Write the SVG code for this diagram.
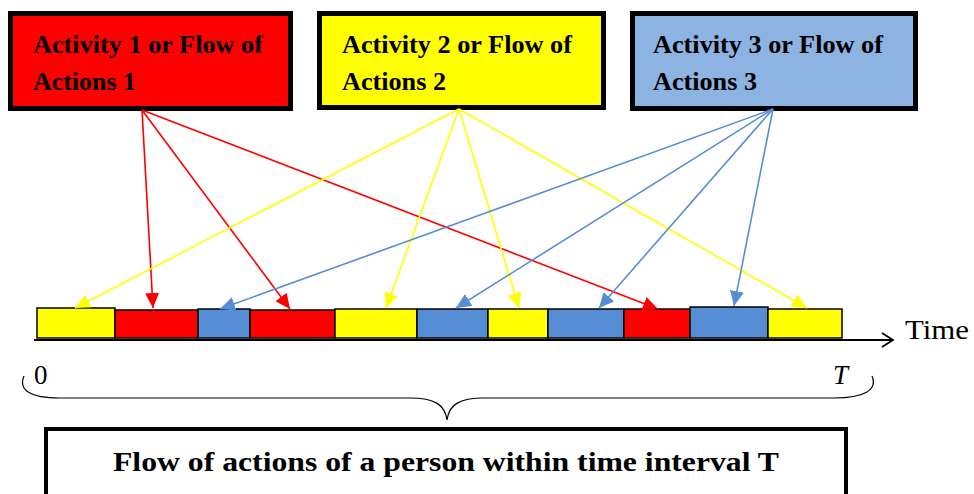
<svg xmlns="http://www.w3.org/2000/svg" width="974" height="494" viewBox="0 0 974 494">
<style>
.box{stroke:#000;stroke-width:5}
.lbl{font-family:"Liberation Serif","Times New Roman",serif;font-weight:bold;font-size:25px;fill:#000}
.big{font-size:27px}
.seg{stroke:#000;stroke-width:1.5}
.r{fill:#FF0000}.y{fill:#FFFF00}.b{fill:#558ED5}
.cr{stroke:#FF0000;stroke-width:1.6;fill:none}
.cy{stroke:#FFFF00;stroke-width:1.6;fill:none}
.cb{stroke:#558ED5;stroke-width:1.6;fill:none}
.ax{font-family:"Liberation Serif","Times New Roman",serif;font-size:28px;fill:#000}
.sm{font-size:27px}
</style>
<defs>
<marker id="mr" markerUnits="userSpaceOnUse" markerWidth="16" markerHeight="14" refX="15" refY="7" orient="auto"><path d="M0,0 L15,7 L0,14 z" fill="#FF0000"/></marker>
<marker id="my" markerUnits="userSpaceOnUse" markerWidth="16" markerHeight="14" refX="15" refY="7" orient="auto"><path d="M0,0 L15,7 L0,14 z" fill="#FFFF00"/></marker>
<marker id="mb" markerUnits="userSpaceOnUse" markerWidth="16" markerHeight="14" refX="15" refY="7" orient="auto"><path d="M0,0 L15,7 L0,14 z" fill="#558ED5"/></marker>
<marker id="mx" markerUnits="userSpaceOnUse" markerWidth="14" markerHeight="16" refX="12" refY="8" orient="auto"><path d="M1,1 L12,8 L1,15" fill="none" stroke="#000" stroke-width="1.8"/></marker>
</defs>

<g id="activity1">
<rect class="box" x="10.5" y="13.5" width="280" height="95" fill="#FF0000"/>
<text class="lbl" x="33" y="53" textLength="230" lengthAdjust="spacingAndGlyphs">Activity 1 or Flow of</text>
<text class="lbl" x="33" y="90" textLength="103" lengthAdjust="spacingAndGlyphs">Actions 1</text>
</g>
<g id="activity2">
<rect class="box" x="319.5" y="13.5" width="284" height="94" fill="#FFFF00"/>
<text class="lbl" x="342" y="53" textLength="230" lengthAdjust="spacingAndGlyphs">Activity 2 or Flow of</text>
<text class="lbl" x="342" y="90" textLength="104" lengthAdjust="spacingAndGlyphs">Actions 2</text>
</g>
<g id="activity3">
<rect class="box" x="632.5" y="13.5" width="283" height="95" fill="#8DB3E2"/>
<text class="lbl" x="653" y="53" textLength="230" lengthAdjust="spacingAndGlyphs">Activity 3 or Flow of</text>
<text class="lbl" x="653" y="90" textLength="104" lengthAdjust="spacingAndGlyphs">Actions 3</text>
</g>

<g id="timeline">
<rect class="seg y" x="37" y="308" width="78" height="30"/>
<rect class="seg r" x="115" y="310" width="83" height="28"/>
<rect class="seg b" x="198" y="309" width="52" height="29"/>
<rect class="seg r" x="250" y="310" width="85" height="28"/>
<rect class="seg y" x="335" y="309" width="82" height="29"/>
<rect class="seg b" x="417" y="309" width="71" height="29"/>
<rect class="seg y" x="488" y="309" width="60" height="29"/>
<rect class="seg b" x="548" y="309" width="76" height="29"/>
<rect class="seg r" x="624" y="309" width="66" height="29"/>
<rect class="seg b" x="690" y="307" width="78" height="31"/>
<rect class="seg y" x="768" y="309" width="74" height="29"/>
<line x1="34" y1="340" x2="893" y2="340" stroke="#000" stroke-width="1.8" marker-end="url(#mx)"/>
<text class="ax" x="905" y="339" textLength="64" lengthAdjust="spacingAndGlyphs">Time</text>
<text class="ax sm" x="34" y="384">0</text>
<text class="ax sm" x="833" y="384" font-style="italic">T</text>
</g>

<g id="connectors">
<line class="cr" x1="142" y1="110" x2="153" y2="308" marker-end="url(#mr)"/>
<line class="cr" x1="142" y1="110" x2="290" y2="309" marker-end="url(#mr)"/>
<line class="cr" x1="142" y1="110" x2="658" y2="309" marker-end="url(#mr)"/>
<line class="cy" x1="459" y1="109" x2="75" y2="308" marker-end="url(#my)"/>
<line class="cy" x1="459" y1="109" x2="386" y2="308" marker-end="url(#my)"/>
<line class="cy" x1="459" y1="109" x2="519" y2="308" marker-end="url(#my)"/>
<line class="cy" x1="459" y1="109" x2="807" y2="308" marker-end="url(#my)"/>
<line class="cb" x1="773" y1="109" x2="220" y2="309" marker-end="url(#mb)"/>
<line class="cb" x1="773" y1="109" x2="456" y2="308" marker-end="url(#mb)"/>
<line class="cb" x1="773" y1="109" x2="599" y2="308" marker-end="url(#mb)"/>
<line class="cb" x1="773" y1="109" x2="734" y2="306" marker-end="url(#mb)"/>
</g>

<g id="brace">
<path d="M24,376 C18,390 30,398 60,398 L410,398 C435,398 445,405 447,420 C449,405 459,398 484,398 L834,398 C864,398 878,390 872,376" fill="none" stroke="#000" stroke-width="1.2"/>
</g>

<g id="summary">
<rect x="46" y="429" width="800" height="70" fill="#FFFFFF" stroke="#000" stroke-width="4"/>
<text class="lbl big" x="446" y="471" text-anchor="middle" textLength="666" lengthAdjust="spacingAndGlyphs">Flow of actions of a person within time interval T</text>
</g>
</svg>
